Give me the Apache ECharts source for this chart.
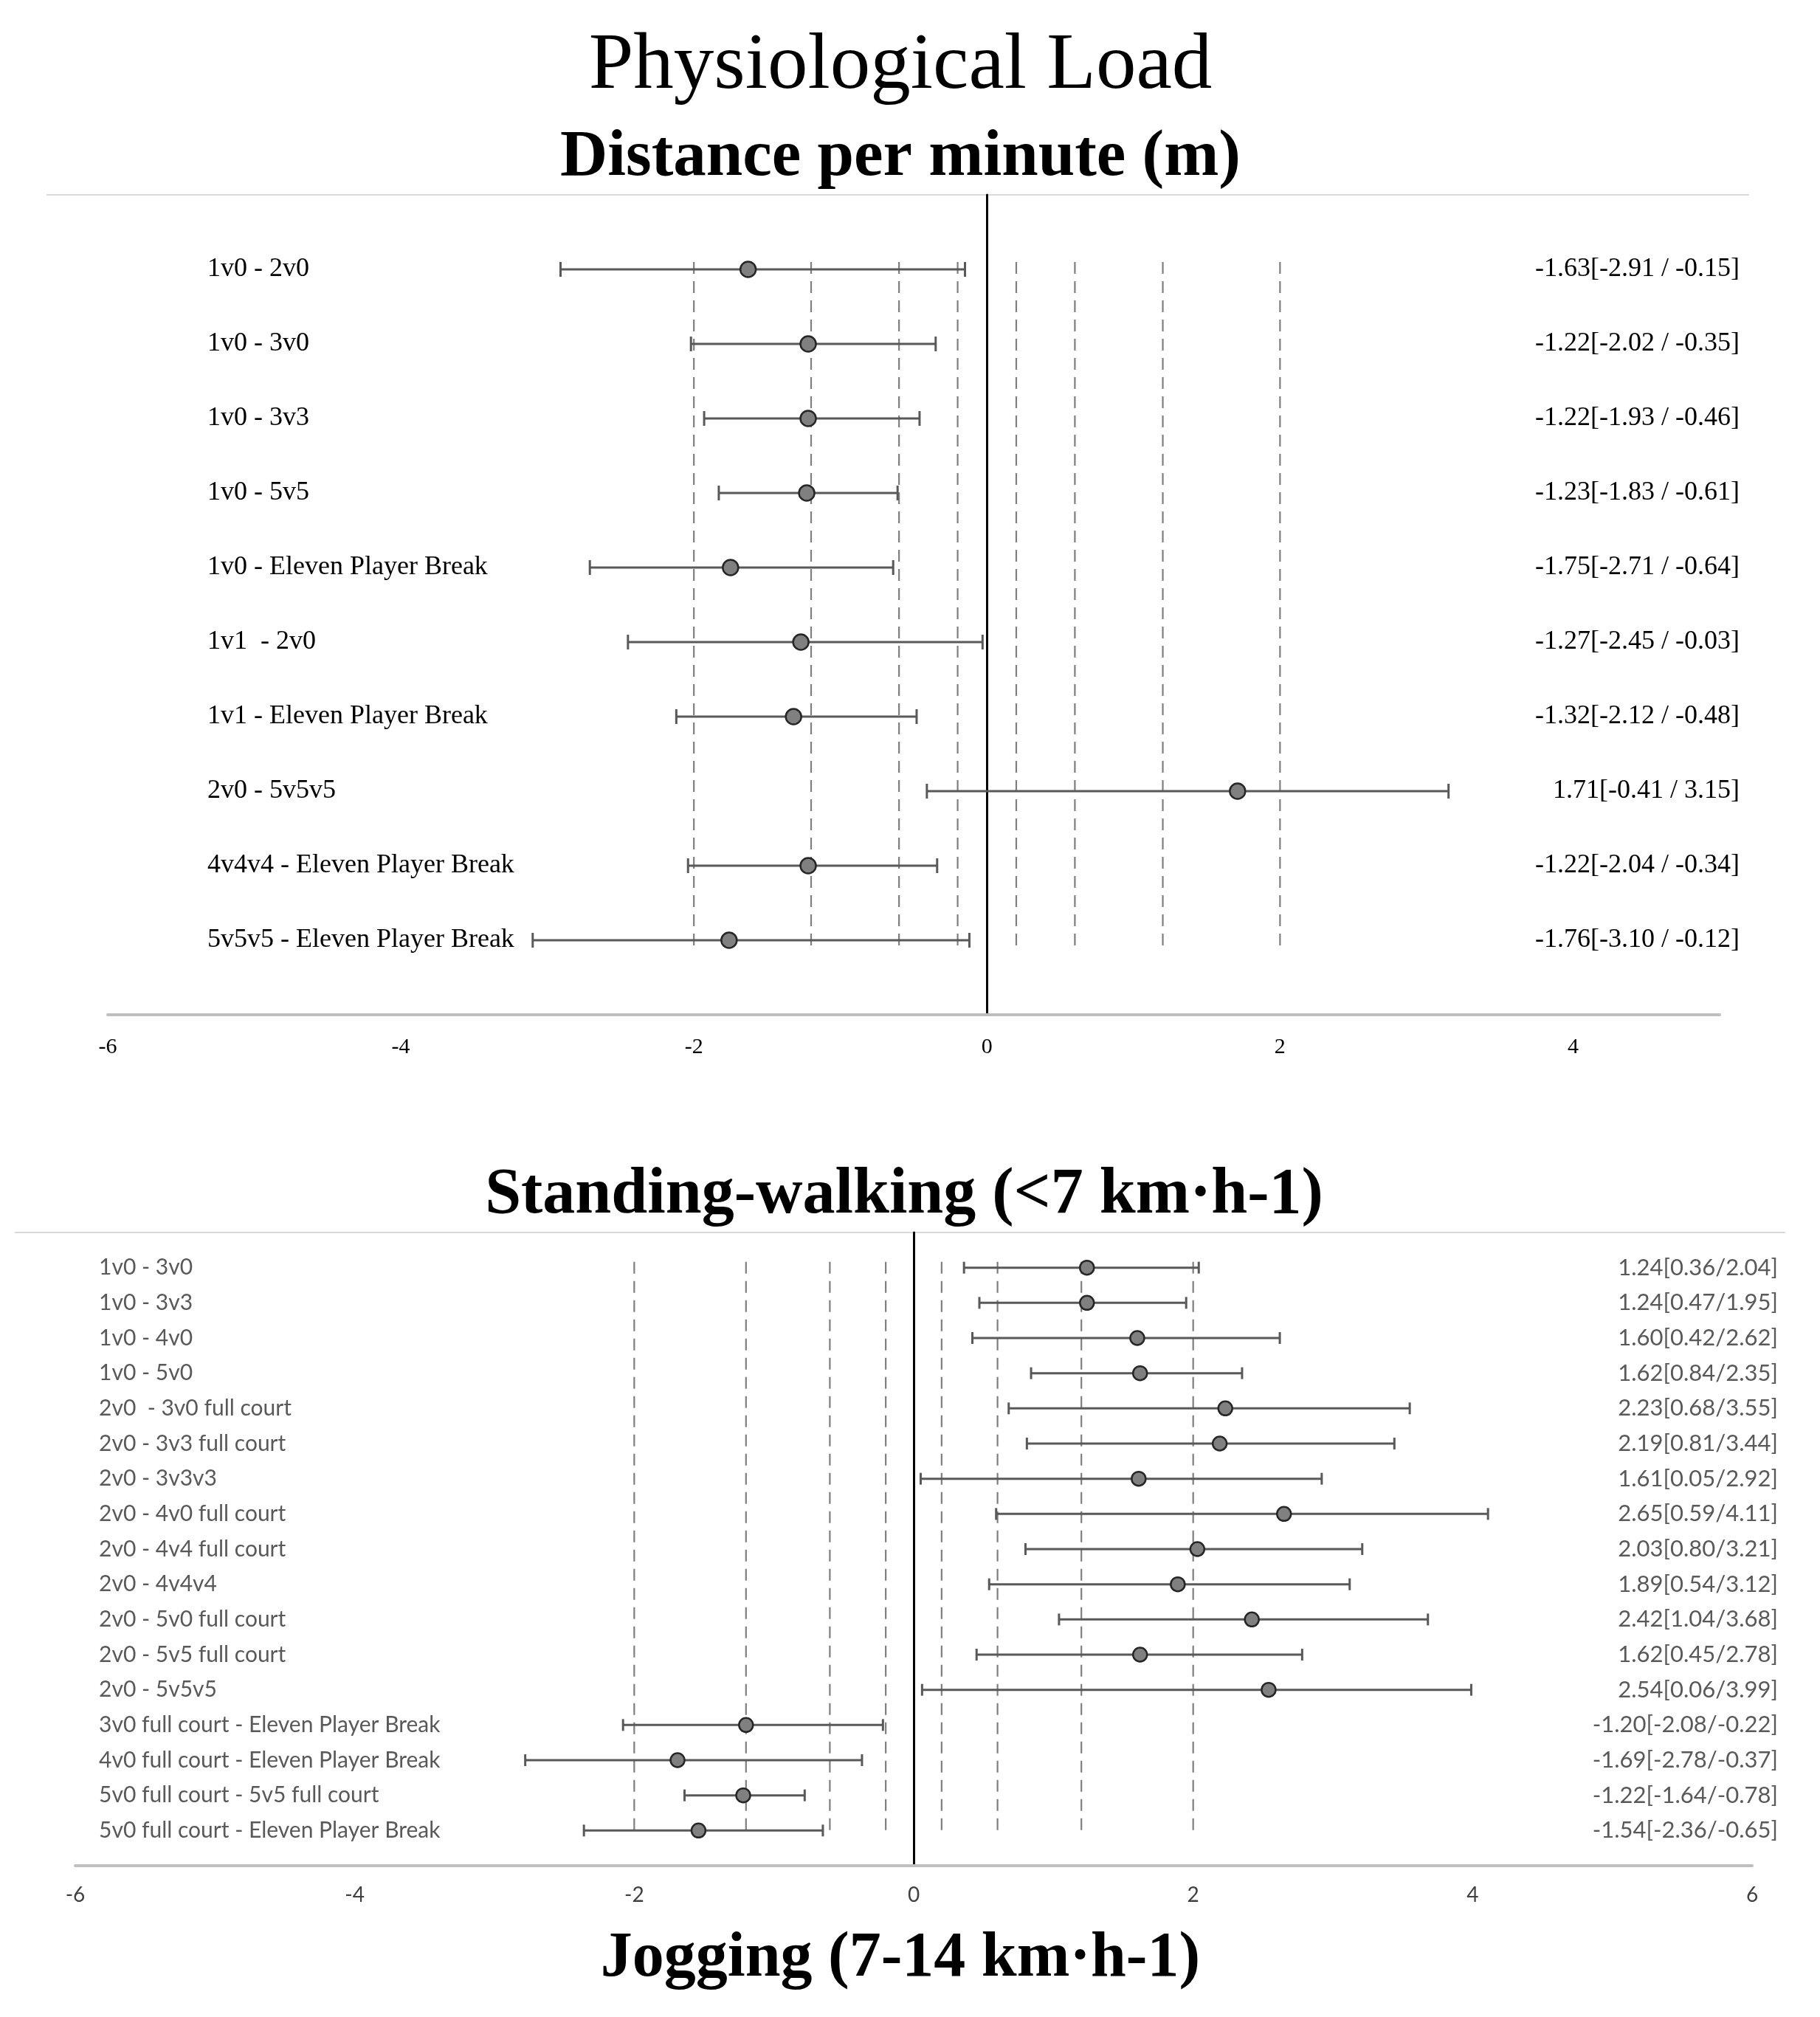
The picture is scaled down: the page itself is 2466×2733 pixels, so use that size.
<!DOCTYPE html>
<html>
<head>
<meta charset="utf-8">
<script src="https://cdn.jsdelivr.net/npm/echarts@6/dist/echarts.min.js"></script>
<style>
html,body{margin:0;padding:0;background:#fff;}
#chart{width:2466px;height:2733px;}
</style>
</head>
<body>
<div id="chart"></div>
<script>
// ---- Data: Distance per minute (m)
const topCats = ["1v0 - 2v0","1v0 - 3v0","1v0 - 3v3","1v0 - 5v5","1v0 - Eleven Player Break","1v1  - 2v0","1v1 - Eleven Player Break","2v0 - 5v5v5","4v4v4 - Eleven Player Break","5v5v5 - Eleven Player Break"];
const topMean = [-1.63,-1.22,-1.22,-1.23,-1.75,-1.27,-1.32,1.71,-1.22,-1.76];
const topLow  = [-2.91,-2.02,-1.93,-1.83,-2.71,-2.45,-2.12,-0.41,-2.04,-3.10];
const topHigh = [-0.15,-0.35,-0.46,-0.61,-0.64,-0.03,-0.48,3.15,-0.34,-0.12];

// ---- Data: Standing-walking (<7 km·h-1)
const botCats = ["1v0 - 3v0","1v0 - 3v3","1v0 - 4v0","1v0 - 5v0","2v0  - 3v0 full court","2v0 - 3v3 full court","2v0 - 3v3v3","2v0 - 4v0 full court","2v0 - 4v4 full court","2v0 - 4v4v4","2v0 - 5v0 full court","2v0 - 5v5 full court","2v0 - 5v5v5","3v0 full court - Eleven Player Break","4v0 full court - Eleven Player Break","5v0 full court - 5v5 full court","5v0 full court - Eleven Player Break"];
const botMean = [1.24,1.24,1.60,1.62,2.23,2.19,1.61,2.65,2.03,1.89,2.42,1.62,2.54,-1.20,-1.69,-1.22,-1.54];
const botLow  = [0.36,0.47,0.42,0.84,0.68,0.81,0.05,0.59,0.80,0.54,1.04,0.45,0.06,-2.08,-2.78,-1.64,-2.36];
const botHigh = [2.04,1.95,2.62,2.35,3.55,3.44,2.92,4.11,3.21,3.12,3.68,2.78,3.99,-0.22,-0.37,-0.78,-0.65];

// Effect-size thresholds (dashed reference lines)
const thresholds = [-2,-1.2,-0.6,-0.2,0.2,0.6,1.2,2];

const SERIF = "'Liberation Serif','Times New Roman',serif";
const SANS = "Lato,'Open Sans',sans-serif";

function fmt(v){ return v.toFixed(2); }

function build(cfg){
  const n = cfg.cats.length;
  const gi = cfg.index;
  const series = [];
  // dashed threshold lines
  series.push({
    type:'custom', xAxisIndex:gi, yAxisIndex:gi, z:1, silent:true,
    data: thresholds.map(t=>[t]),
    renderItem:(params, api)=>{
      const t = api.value(0);
      const a = api.coord([t,1]), b = api.coord([t,n]);
      return {type:'line', shape:{x1:a[0],y1:a[1]-cfg.capH/2,x2:b[0],y2:b[1]+cfg.capH/2},
        style:{stroke:'#7f7f7f', lineWidth:2.2, lineDash:[16,10]}};
    }
  });
  // error bars
  series.push({
    type:'custom', xAxisIndex:gi, yAxisIndex:gi, z:3, silent:true,
    data: cfg.cats.map((c,i)=>[i+1, cfg.low[i], cfg.high[i]]),
    renderItem:(params, api)=>{
      const row = api.value(0), lo = api.value(1), hi = api.value(2);
      const p1 = api.coord([lo,row]), p2 = api.coord([hi,row]);
      const h = cfg.capH/2;
      const st = {stroke:'#595959', lineWidth:cfg.lw};
      return {type:'group', children:[
        {type:'line', shape:{x1:p1[0],y1:p1[1],x2:p2[0],y2:p2[1]}, style:st},
        {type:'line', shape:{x1:p1[0],y1:p1[1]-h,x2:p1[0],y2:p1[1]+h}, style:st},
        {type:'line', shape:{x1:p2[0],y1:p2[1]-h,x2:p2[0],y2:p2[1]+h}, style:st}
      ]};
    }
  });
  // means
  series.push({
    type:'scatter', xAxisIndex:gi, yAxisIndex:gi, z:4, silent:true,
    symbol:'circle', symbolSize:cfg.dot,
    itemStyle:{color:'#808080', borderColor:'#262626', borderWidth:2.5, opacity:1},
    data: cfg.mean.map((m,i)=>[m,i+1])
  });
  // labels
  series.push({
    type:'custom', xAxisIndex:gi, yAxisIndex:gi, z:5, silent:true,
    data: cfg.cats.map((c,i)=>[i+1]),
    renderItem:(params, api)=>{
      const i = params.dataIndex;
      const row = api.value(0);
      const L = api.coord([cfg.xmin,row]), R = api.coord([cfg.xmax,row]);
      const right = fmt(cfg.mean[i]) + '[' + fmt(cfg.low[i]) + cfg.sep + fmt(cfg.high[i]) + ']';
      return {type:'group', children:[
        {type:'text', x:L[0]+cfg.leftOff, y:L[1], style:{text:cfg.cats[i], fontFamily:cfg.font, fontSize:cfg.fsL, fill:cfg.color, align:'left', verticalAlign:'middle'}},
        {type:'text', x:R[0]+cfg.rightOff, y:R[1], style:{text:right, fontFamily:cfg.font, fontSize:cfg.fsR, fill:cfg.color, align:'right', verticalAlign:'middle'}}
      ]};
    }
  });
  return series;
}

const topCfg = {index:0, cats:topCats, mean:topMean, low:topLow, high:topHigh, xmin:-6, xmax:5,
  capH:20, lw:3, dot:21, font:SERIF, fsL:36, fsR:36, color:'#000', leftOff:135, rightOff:27, sep:' / '};
const botCfg = {index:1, cats:botCats, mean:botMean, low:botLow, high:botHigh, xmin:-6, xmax:6,
  capH:16, lw:3, dot:19, font:SANS, fsL:30, fsR:31, color:'#595959', leftOff:32, rightOff:35, sep:'/'};

const chart = echarts.init(document.getElementById('chart'), null, {renderer:'canvas'});
chart.setOption({
  backgroundColor:'#fff',
  animation:false,
  grid:[
    {left:146, width:2184, top:264, height:1111},
    {left:102, width:2272, top:1670, height:858}
  ],
  xAxis:[
    {gridIndex:0, type:'value', min:-6, max:5, interval:2,
      axisLine:{show:true, onZero:false, lineStyle:{color:'#bfbfbf', width:4}},
      axisTick:{show:false}, splitLine:{show:false},
      axisLabel:{margin:29, fontFamily:SERIF, fontSize:30, color:'#000', showMaxLabel:false}},
    {gridIndex:1, type:'value', min:-6, max:6, interval:2,
      axisLine:{show:true, onZero:false, lineStyle:{color:'#bfbfbf', width:4}},
      axisTick:{show:false}, splitLine:{show:false},
      axisLabel:{margin:26, fontFamily:SANS, fontSize:28, color:'#404040'}}
  ],
  yAxis:[
    {gridIndex:0, type:'value', min:0, max:11, inverse:true,
      axisLine:{show:true, onZero:true, lineStyle:{color:'#000', width:3}},
      axisTick:{show:false}, axisLabel:{show:false}, splitLine:{show:false}},
    {gridIndex:1, type:'value', min:0, max:18, inverse:true,
      axisLine:{show:true, onZero:true, lineStyle:{color:'#000', width:3}},
      axisTick:{show:false}, axisLabel:{show:false}, splitLine:{show:false}}
  ],
  graphic:[
    {type:'text', x:1220, y:90, style:{text:'Physiological Load', fontFamily:SERIF, fontSize:109, fill:'#000', align:'center', verticalAlign:'middle'}},
    {type:'text', x:1220, y:214, style:{text:'Distance per minute (m)', fontFamily:SERIF, fontWeight:'bold', fontSize:89, fill:'#000', align:'center', verticalAlign:'middle'}},
    {type:'line', shape:{x1:63, y1:264, x2:2370, y2:264}, style:{stroke:'#d9d9d9', lineWidth:2}},
    {type:'text', x:1225, y:1620, style:{text:'Standing-walking (<7 km·h-1)', fontFamily:SERIF, fontWeight:'bold', fontSize:88, fill:'#000', align:'center', verticalAlign:'middle'}},
    {type:'line', shape:{x1:20, y1:1670, x2:2419, y2:1670}, style:{stroke:'#d9d9d9', lineWidth:2}},
    {type:'text', x:1220, y:2655, style:{text:'Jogging (7-14 km·h-1)', fontFamily:SERIF, fontWeight:'bold', fontSize:86, fill:'#000', align:'center', verticalAlign:'middle'}}
  ],
  series:[].concat(build(topCfg), build(botCfg))
});
</script>
</body>
</html>
